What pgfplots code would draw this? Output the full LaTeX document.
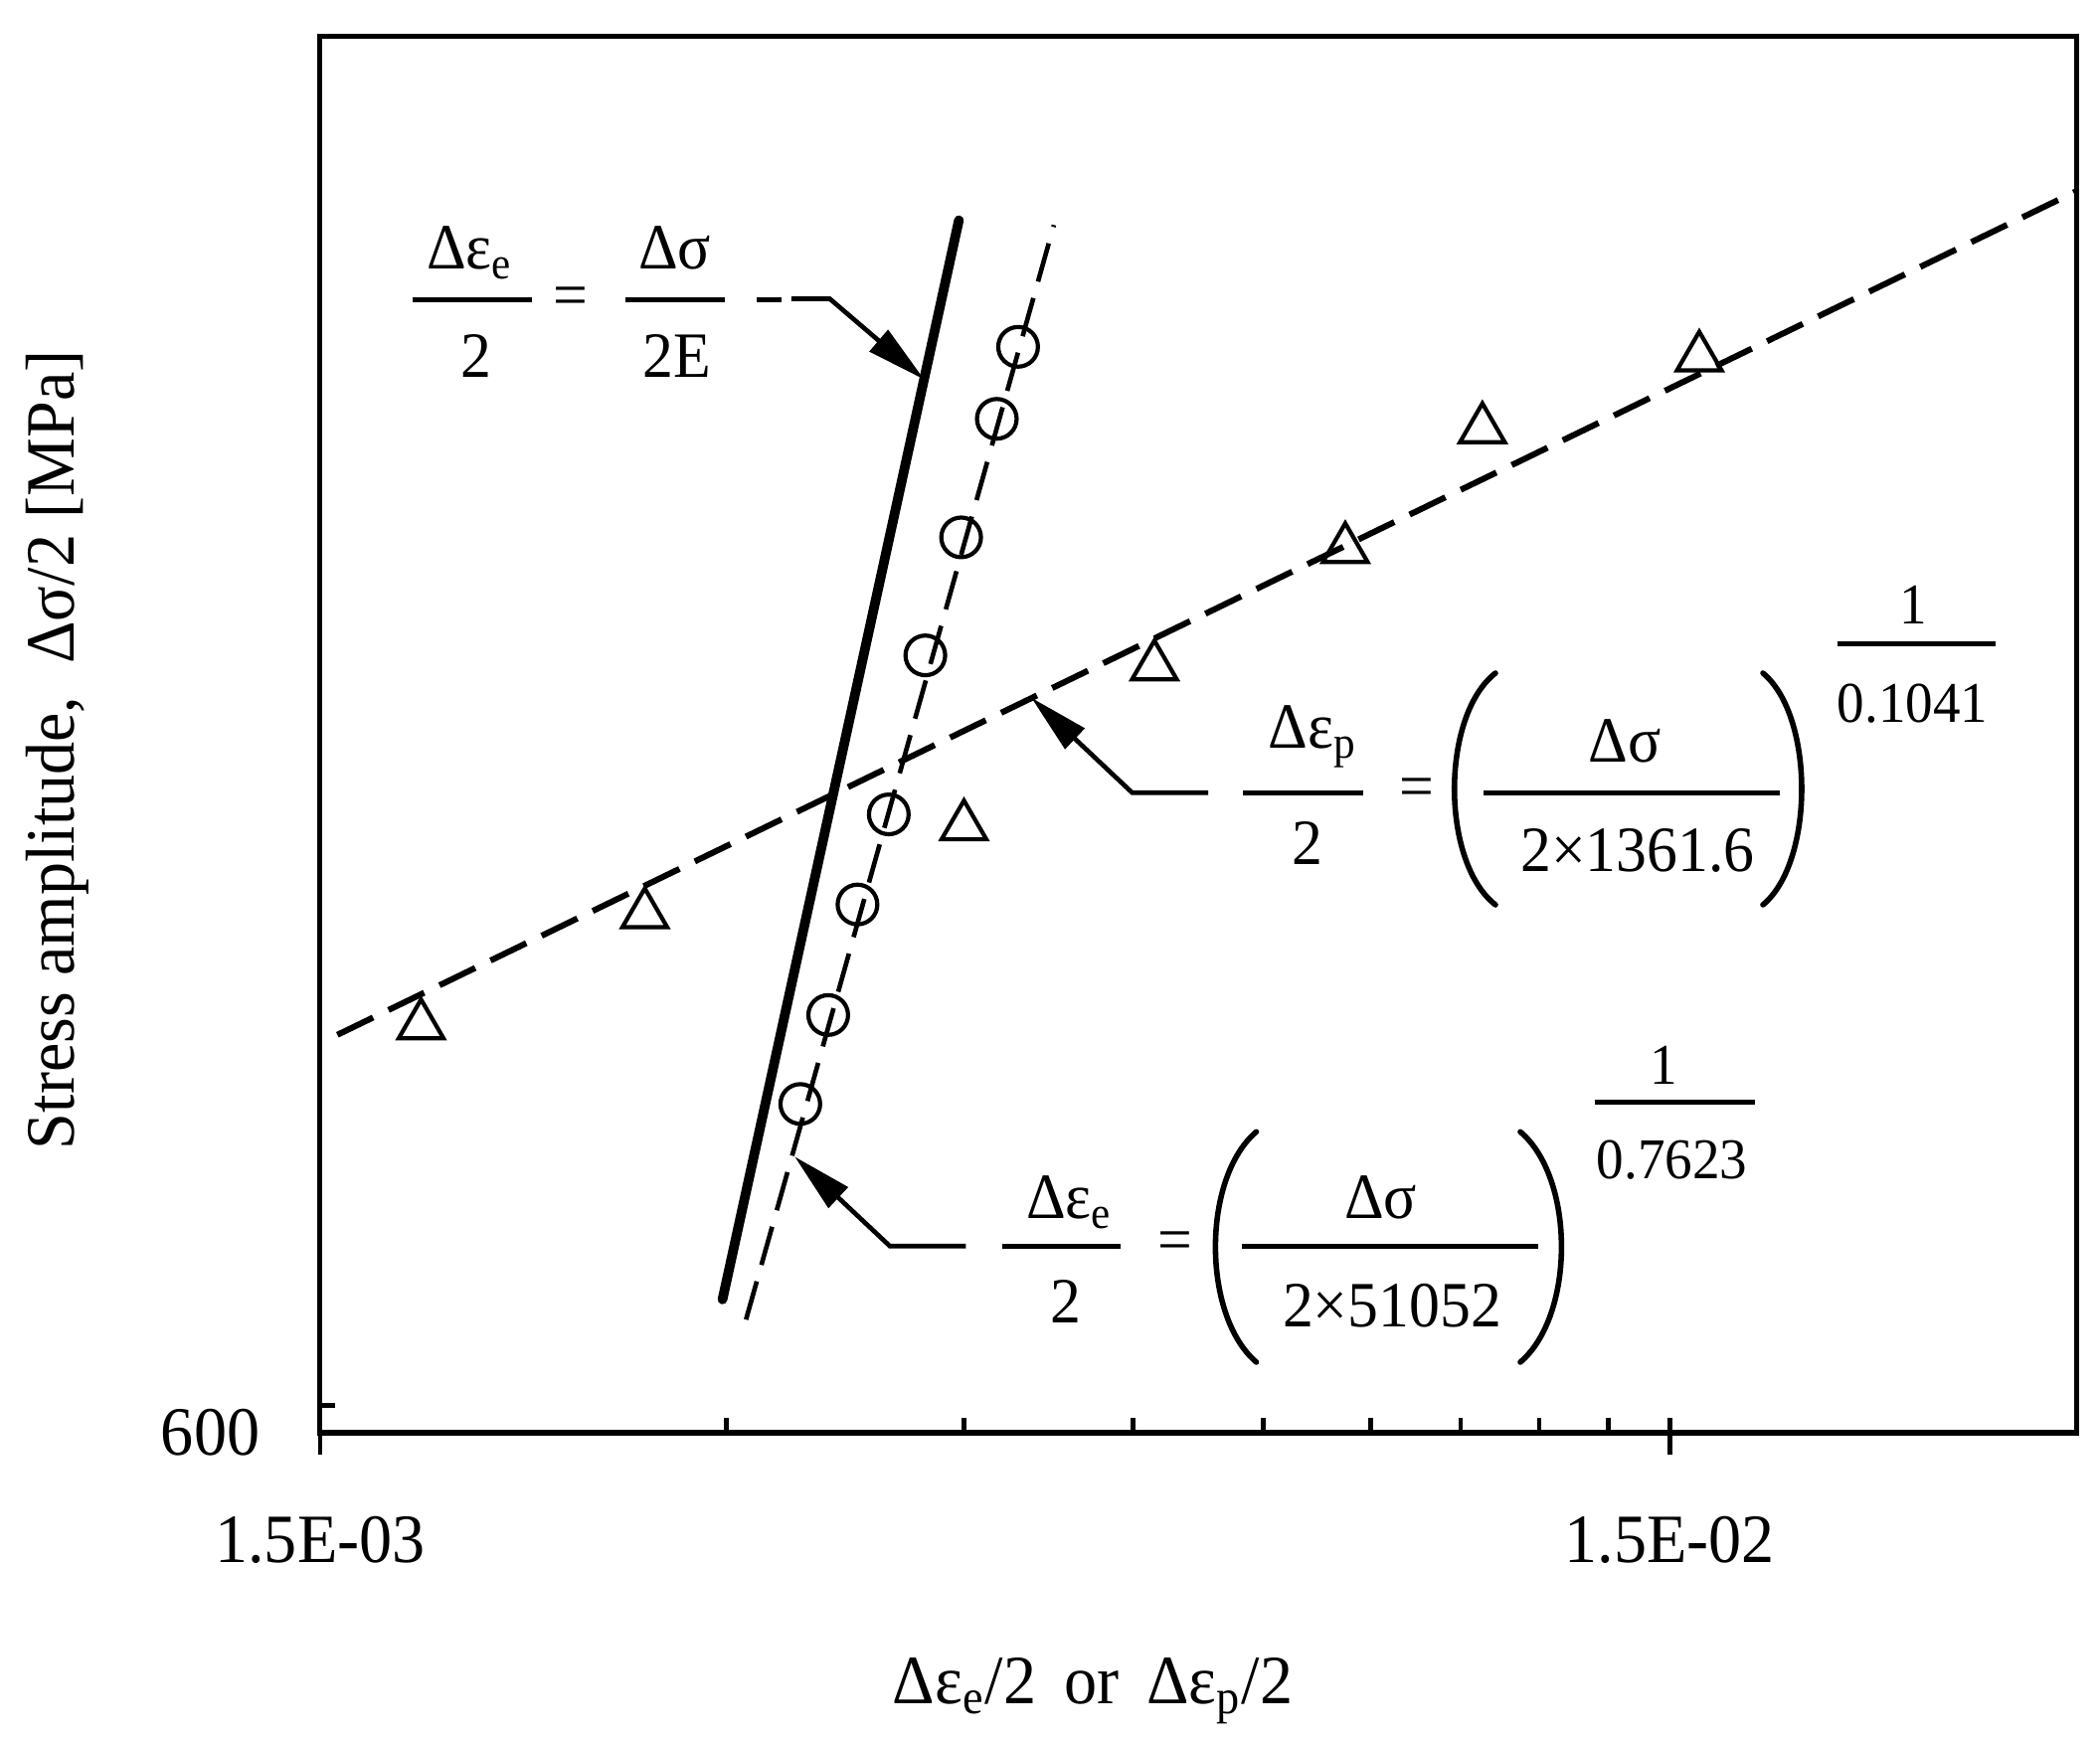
\documentclass[border=0pt]{standalone}
\usepackage{fontspec}
\setmainfont[FakeStretch=0.95]{Liberation Serif}
\usepackage{pgfplots}
\pgfplotsset{compat=1.18}
\usetikzlibrary{arrows.meta}

\newcommand{\axfont}{\fontsize{15}{18}\selectfont}
\newcommand{\eqfont}{\fontsize{14}{17}\selectfont}
\newcommand{\exfont}{\fontsize{12.5}{15}\selectfont}

\begin{document}
\begin{tikzpicture}
\begin{axis}[
    name=main,
    scale only axis,
    width=380.6pt, height=302.6pt,
    xmode=log, ymode=log,
    xmin=0.0015, xmax=0.03,
    ymin=600, ymax=1000,
    axis line style={line width=1.1pt},
    tick style={line width=1pt, black},
    tick align=inside,
    tick pos=left,
    major tick length=3.2pt,
    minor tick num=0,
    xtick={0.003,0.0045,0.006,0.0075,0.009,0.0105,0.012,0.0135,0.015},
    xticklabel={\mbox{}},
    extra x ticks={0.0015,0.015},
    extra x tick labels={1.5E-03,1.5E-02},
    extra x tick style={tick align=outside, major tick length=4.7pt},
    ytick={606},
    yticklabel={\mbox{}},
    extra y ticks={600},
    extra y tick labels={600},
    extra y tick style={major tick length=0pt},
    xticklabel style={font=\axfont, anchor=base, yshift=-23.5pt},
    yticklabel style={font=\axfont, anchor=east, inner sep=0pt, xshift=-12.9pt},
    xlabel={Δε\textsubscript{e}/2\hspace{0.4em}or\hspace{0.4em}Δε\textsubscript{p}/2},
    xlabel style={at={(rel axis cs:0.44,-0.1944)}, anchor=base, font=\axfont},
    ylabel={Stress amplitude,~~Δσ/2 [MPa]},
    ylabel style={at={(rel axis cs:-0.1495,0.489)}, anchor=center, font=\axfont},
]

% elastic line  D eps_e/2 = D sigma/2E
\addplot[black, line width=2.1pt, line cap=round]
    coordinates {(0.00298,630) (0.00446,935)};

% fit through circles
\addplot[black, line width=1pt, dash pattern=on 8.6pt off 3.7pt]
    coordinates {(0.003102,625.4) (0.005245,933.4)};

% fit through triangles
\addplot[black, line width=1.3pt, dash pattern=on 8.6pt off 3.7pt]
    coordinates {(0.001545,694.1) (0.03,945.0)};

% elastic strain amplitude
\addplot[black, only marks, mark=o, mark size=4.3pt, mark options={line width=0.9pt}]
    coordinates {
    (0.003403,676.7) (0.003569,699.1) (0.003752,728.0) (0.003958,752.4)
    (0.004212,797.5) (0.004477,832.6) (0.004758,869.5) (0.004934,892.7)
    };

% plastic strain amplitude
\addplot[black, only marks, mark=triangle, mark size=5.6pt, mark options={line width=0.9pt}]
    coordinates {
    (0.001782,696.5) (0.002610,725.4) (0.004499,749.1) (0.006226,794.3)
    (0.008622,829.0) (0.010894,866.2) (0.015772,889.2)
    };

\end{axis}

% annotations, in pixels of the 2112x1748 picture (y down)
\begin{scope}[shift={(main.north west)}, x=0.2155pt, y=-0.2155pt, shift={(-322,-37)},
    every node/.style={inner sep=0pt, anchor=base},
    bar/.style={line width=1.1pt},
    lead/.style={line width=1pt, -{Triangle[length=13pt,width=6pt]}}]
\path (0,0) rectangle (2112,1748);

% top: D eps_e / 2 = D sigma / 2E
\draw[bar] (415,301.7) -- (535,301.7);
\node[font=\eqfont] at (472.8,270.7) {Δε\textsubscript{e}};
\node[font=\eqfont] at (478.5,379.3) {2};
\node[font=\eqfont] at (574,318.5) {=};
\draw[bar] (629.5,301.7) -- (728.8,301.7);
\node[font=\eqfont] at (678.6,270.7) {Δσ};
\node[font=\eqfont] at (681,379.3) {2E};
\draw[line width=1pt] (761,301.7) -- (786,301.7);
\draw[lead] (796,300.5) -- (834.5,300.5) -- (929.5,381.7);

% middle: plastic
\draw[lead] (1215,797.3) -- (1138.7,797.3) -- (1037.2,701.7);
\draw[bar] (1250.3,797.3) -- (1370.7,797.3);
\node[font=\eqfont] at (1320.5,752.3) {Δε\textsubscript{p}};
\node[font=\eqfont] at (1314.6,870) {2};
\node[font=\eqfont] at (1424.6,813) {=};
\draw[line width=1.2pt, line cap=round] (1504,677) .. controls (1449,720) and (1449,867) .. (1504,910);
\draw[line width=1.2pt, line cap=round] (1773,677) .. controls (1825,720) and (1825,867) .. (1773,910);
\draw[bar] (1491.8,797.3) -- (1790,797.3);
\node[font=\eqfont] at (1634,766.7) {Δσ};
\node[font=\eqfont] at (1647,876.7) {2×1361.6};
\draw[bar] (1847.7,647.7) -- (2006.7,647.7);
\node[font=\exfont] at (1924.5,628) {1};
\node[font=\exfont] at (1923.5,726.7) {0.1041};

% bottom: elastic fit
\draw[lead] (971.5,1253.3) -- (895,1253.3) -- (799.2,1163.3);
\draw[bar] (1008.3,1253.3) -- (1127.4,1253.3);
\node[font=\eqfont] at (1075.6,1225.7) {Δε\textsubscript{e}};
\node[font=\eqfont] at (1072,1330.7) {2};
\node[font=\eqfont] at (1182,1269) {=};
\draw[line width=1.2pt, line cap=round] (1263.5,1138.3) .. controls (1208.7,1185) and (1208.7,1323) .. (1263.5,1370);
\draw[line width=1.2pt, line cap=round] (1529,1138.3) .. controls (1584.2,1185) and (1584.2,1323) .. (1529,1370);
\draw[bar] (1249.3,1253.3) -- (1547,1253.3);
\node[font=\eqfont] at (1388.6,1225.7) {Δσ};
\node[font=\eqfont] at (1400,1335) {2×51052};
\draw[bar] (1603.7,1108.3) -- (1764.6,1108.3);
\node[font=\exfont] at (1673,1091) {1};
\node[font=\exfont] at (1681.7,1186) {0.7623};
\end{scope}
\end{tikzpicture}
\end{document}
